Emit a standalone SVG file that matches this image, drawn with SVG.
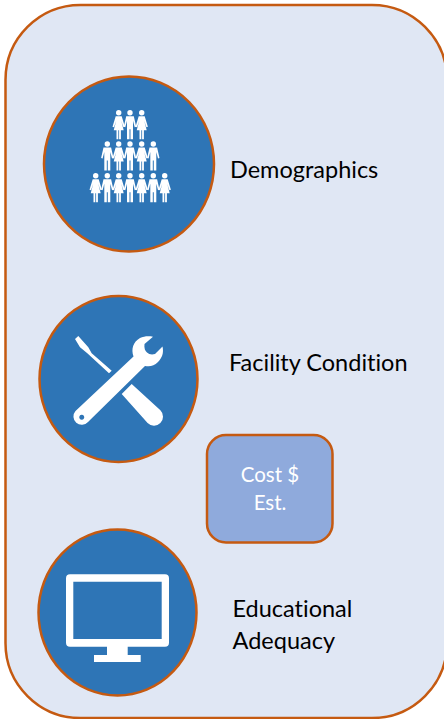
<svg xmlns="http://www.w3.org/2000/svg" xmlns:xlink="http://www.w3.org/1999/xlink" width="444" height="719" viewBox="0 0 444 719">
<style>
.c{fill:#2e75b6;stroke:#c55a11;stroke-width:2.500}
.t{font-family:"Lato","Carlito","Liberation Sans",sans-serif;font-size:23.500px;fill:#000;font-variant-ligatures:none}
.e{font-family:"Lato","Carlito","Liberation Sans",sans-serif;font-size:20.500px;fill:#fff;text-anchor:middle}
.w{fill:#fff}
</style>
<defs>
<g id="man" class="w"><circle cx="0" cy="-13" r="2.700"/><path d="M-3.800-9.500H3.800L6.200 1 4.700 1.500 3-5V13.500H.5V3.500H-.5V13.500H-3V-5L-4.700 1.500-6.200 1z"/></g>
<g id="woman" class="w"><circle cx="0" cy="-13" r="2.700"/><path d="M-3-9.500H3L6.200 1 4.700 1.500 2.500-5 5 4.500H2.200V13.500H.4V4.500H-.4V13.500H-2.200V4.500H-5L-2.500-5-4.700 1.500-6.200 1z"/></g>
</defs>
<rect id="panel" x="5.500" y="5" width="441.500" height="713" rx="75" fill="#e0e7f4" stroke="#c55a11" stroke-width="2.500"/>
<g id="demographics"><ellipse class="c" cx="129" cy="164" rx="85" ry="87.500"/>
<use xlink:href="#woman" x="118.700" y="125.700"/><use xlink:href="#man" x="130" y="125.700"/><use xlink:href="#woman" x="141.700" y="125.700"/>
<use xlink:href="#man" x="107.300" y="157"/><use xlink:href="#woman" x="118.700" y="157"/><use xlink:href="#man" x="130" y="157"/><use xlink:href="#woman" x="141.700" y="157"/><use xlink:href="#man" x="153.300" y="157"/>
<use xlink:href="#woman" x="95.700" y="188.700"/><use xlink:href="#man" x="107.300" y="188.700"/><use xlink:href="#woman" x="118.700" y="188.700"/><use xlink:href="#man" x="130" y="188.700"/><use xlink:href="#woman" x="141.700" y="188.700"/><use xlink:href="#man" x="153.300" y="188.700"/><use xlink:href="#woman" x="164.700" y="188.700"/>
<text class="t" x="230" y="178">Demographics</text></g>
<g id="facility"><ellipse class="c" cx="118.500" cy="379" rx="79" ry="83"/>
<path class="w" d="M75 339L78.300 336 88.300 347.300 91.700 353.300 111.700 370.700 109 373.300 87.300 353.300 80 347.300z"/>
<path class="w" d="M131.700 384L160.400 410.300A9 9 0 0 1 147.600 423L121.700 394z"/>
<path class="w" fill-rule="evenodd" d="M133.500 356.500C131 349 133 342 140 338C144 336 149 336 153 336.700L144.500 344C144 348 145 351 147 352.500C149 354.500 152 355 155 354L162.500 346.500C164 353 162 358 158 362C154 366 150 367 145 366L88 422A8.300 8.300 0 0 1 75.500 411zM81.700 414.800a2.500 2.500 0 1 0 .1 0z"/>
<text class="t" x="229" y="371">Facility Condition</text></g>
<g id="cost"><rect x="207" y="435" width="125.500" height="107.500" rx="19" fill="#8faadc" stroke="#c55a11" stroke-width="2.500"/>
<text class="e" x="270" y="482">Cost $</text>
<text class="e" x="270" y="510">Est.</text></g>
<g id="educational"><ellipse class="c" cx="117.500" cy="612.500" rx="79" ry="83"/>
<path class="w" fill-rule="evenodd" d="M70 574.300h95a4 4 0 0 1 4 4v64.400a4 4 0 0 1-4 4h-37.300v8.300h13v7h-46.700v-7h13v-8.300h-37a4 4 0 0 1-4-4v-64.400a4 4 0 0 1 4-4zm3.300 7.400v57.300h88.400v-57.300z"/>
<text class="t" x="232.500" y="617">Educational</text><text class="t" x="232.500" y="649">Adequacy</text></g>
<g id="connectors"/>
</svg>
